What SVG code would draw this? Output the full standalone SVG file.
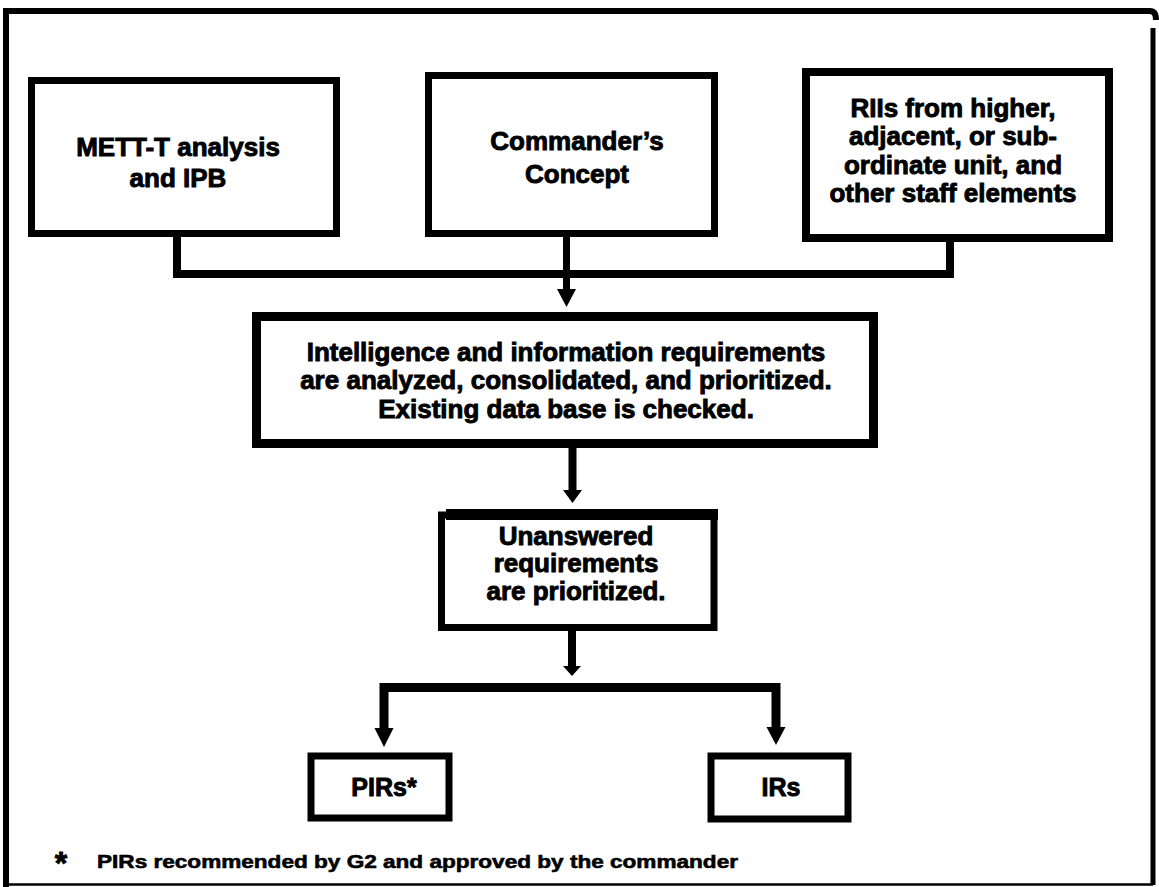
<svg xmlns="http://www.w3.org/2000/svg" width="1159" height="887" viewBox="0 0 1159 887">
<style>
.box{fill:#fff;stroke:#000;stroke-linejoin:miter}
.t{font-family:"Liberation Sans",Arial,sans-serif;font-weight:bold;font-size:26px;fill:#000;stroke:#000;stroke-width:0.9;text-anchor:middle}
.c{fill:none;stroke:#000;stroke-linejoin:miter;stroke-linecap:butt}
.ah{fill:#000;stroke:none}
</style>
<rect width="1159" height="887" fill="#fff"/>
<g id="frame" fill="none" stroke="#000">
  <path d="M6 887 V11 H1150 Q1156 11 1156 20" stroke-width="6"/>
  <path d="M1153 28 V885" stroke-width="5"/>
  <path d="M6 884.5 H1153" stroke-width="2.5"/>
</g>
<g id="connectors">
  <path class="c" d="M177 237 V274 H950 V242" stroke-width="8"/>
  <path class="c" d="M566.5 237 V292" stroke-width="7"/>
  <polygon class="ah" points="557,289 576,289 566.5,307"/>
  <path class="c" d="M572.5 448 V492" stroke-width="8"/>
  <polygon class="ah" points="563,490 582,490 572.5,503"/>
  <path class="c" d="M572 631 V668" stroke-width="8"/>
  <polygon class="ah" points="563,666 581,666 572,676"/>
  <path class="c" d="M384 731 V687.5 H776 V731" stroke-width="9"/>
  <polygon class="ah" points="374.5,728 393.5,728 384,747"/>
  <polygon class="ah" points="766.5,727 785.5,727 776,745"/>
</g>
<g id="node-mett">
  <rect class="box" x="31.5" y="80.5" width="305" height="153" stroke-width="7"/>
  <text class="t" x="178" y="156">METT-T analysis</text>
  <text class="t" x="178" y="187">and IPB</text>
</g>
<g id="node-concept">
  <rect class="box" x="428.5" y="75.5" width="286" height="158" stroke-width="7"/>
  <text class="t" x="577" y="150">Commander’s</text>
  <text class="t" x="577" y="183">Concept</text>
</g>
<g id="node-riis">
  <rect class="box" x="806" y="72" width="303" height="166" stroke-width="8"/>
  <text class="t" x="953" y="117">RIIs from higher,</text>
  <text class="t" x="953" y="145">adjacent, or sub-</text>
  <text class="t" x="953" y="174">ordinate unit, and</text>
  <text class="t" x="953" y="202">other staff elements</text>
</g>
<g id="node-analysis">
  <rect class="box" x="256.5" y="316.5" width="617" height="127" stroke-width="9"/>
  <text class="t" x="566" y="361">Intelligence and information requirements</text>
  <text class="t" x="566" y="389">are analyzed, consolidated, and prioritized.</text>
  <text class="t" x="566" y="418">Existing data base is checked.</text>
</g>
<g id="node-unanswered">
  <rect class="box" x="441.5" y="515" width="272.5" height="112.5" stroke-width="7"/>
  <rect x="446" y="509" width="272" height="11" fill="#000"/>
  <text class="t" x="576" y="545">Unanswered</text>
  <text class="t" x="576" y="572">requirements</text>
  <text class="t" x="576" y="600">are prioritized.</text>
</g>
<g id="node-pirs">
  <rect class="box" x="311" y="756" width="138" height="62" stroke-width="7"/>
  <text class="t" x="384" y="796" style="font-size:25px">PIRs*</text>
</g>
<g id="node-irs">
  <rect class="box" x="711" y="756" width="137" height="63" stroke-width="7"/>
  <text class="t" x="781" y="796" style="font-size:25px">IRs</text>
</g>
<g id="footnote">
  <text class="t" x="61" y="874" style="font-size:32px">*</text>
  <text class="t" x="97" y="868" style="font-size:19px;text-anchor:start;stroke-width:0.6" textLength="641" lengthAdjust="spacingAndGlyphs">PIRs recommended by G2 and approved by the commander</text>
</g>
</svg>
